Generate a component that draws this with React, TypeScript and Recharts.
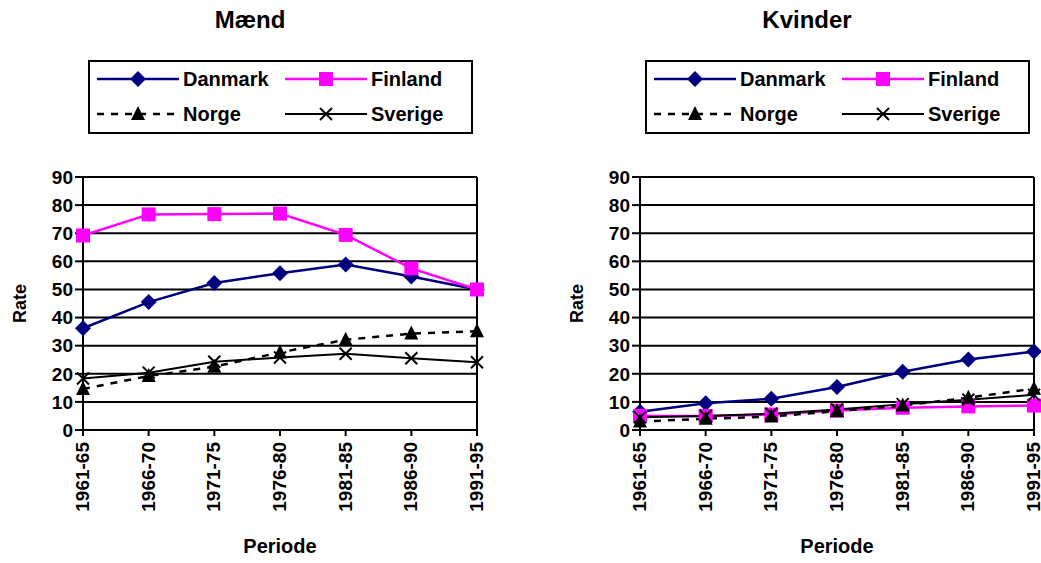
import React from 'react';
import {
  LineChart,
  Line,
  XAxis,
  YAxis,
  CartesianGrid,
  ReferenceLine,
  Legend,
} from 'recharts';

const categories = ['1961-65', '1966-70', '1971-75', '1976-80', '1981-85', '1986-90', '1991-95'];
const yTicks = [0, 10, 20, 30, 40, 50, 60, 70, 80, 90];

// Mænd
const maendDanmark = [36.2, 45.5, 52.3, 55.8, 58.9, 54.6, 50];
const maendFinland = [69.2, 76.7, 76.8, 77, 69.4, 57.5, 50];
const maendNorge = [14.6, 19.2, 22.5, 27.6, 32.1, 34.3, 35.1];
const maendSverige = [18.3, 20.4, 24.3, 25.8, 27.1, 25.5, 24.1];

// Kvinder
const kvinderDanmark = [6.5, 9.5, 11.1, 15.3, 20.7, 25.1, 27.9];
const kvinderFinland = [5, 5, 5.5, 6.9, 7.9, 8.4, 8.7];
const kvinderNorge = [3, 4, 4.8, 6.7, 8.7, 11.5, 14.7];
const kvinderSverige = [4.5, 5, 5.8, 7.3, 9.2, 10.8, 12.5];

const FONT = '"Liberation Sans", Arial, sans-serif';
const NAVY = '#000080';
const MAGENTA = '#FF00FF';

type Marker = 'diamond' | 'square' | 'triangle' | 'cross';

const drawMarker = (kind: Marker, cx: number, cy: number, key?: string) => {
  if (kind === 'diamond') {
    return (
      <polygon key={key} points={`${cx},${cy - 8} ${cx + 8},${cy} ${cx},${cy + 8} ${cx - 8},${cy}`} fill={NAVY} />
    );
  }
  if (kind === 'square') {
    return <rect key={key} x={cx - 7} y={cy - 7} width={14} height={14} fill={MAGENTA} />;
  }
  if (kind === 'triangle') {
    return <polygon key={key} points={`${cx},${cy - 8} ${cx + 7},${cy + 6} ${cx - 7},${cy + 6}`} fill="#000" />;
  }
  return (
    <g key={key} stroke="#000" strokeWidth={2}>
      <line x1={cx - 6} y1={cy - 6} x2={cx + 6} y2={cy + 6} />
      <line x1={cx - 6} y1={cy + 6} x2={cx + 6} y2={cy - 6} />
    </g>
  );
};

const dotOf = (kind: Marker) => (props: any) => drawMarker(kind, props.cx, props.cy, `${kind}-${props.index}`);

const seriesInfo: { key: string; color: string; dash?: string; width: number; marker: Marker }[] = [
  { key: 'Danmark', color: NAVY, width: 2.5, marker: 'diamond' },
  { key: 'Finland', color: MAGENTA, width: 2.5, marker: 'square' },
  { key: 'Norge', color: '#000', dash: '7 7', width: 2.5, marker: 'triangle' },
  { key: 'Sverige', color: '#000', width: 2, marker: 'cross' },
];

const LegendBox = () => {
  const item = (s: (typeof seriesInfo)[number]) => (
    <div key={s.key} style={{ display: 'flex', alignItems: 'center', height: 34 }}>
      <svg width={84} height={20}>
        <line x1={1} y1={10} x2={83} y2={10} stroke={s.color} strokeWidth={s.width} strokeDasharray={s.dash} />
        {drawMarker(s.marker, 42, 10)}
      </svg>
      <span style={{ fontFamily: FONT, fontWeight: 700, fontSize: 20, marginLeft: 3 }}>{s.key}</span>
    </div>
  );
  return (
    <div
      style={{
        border: '2px solid #000',
        background: '#fff',
        boxSizing: 'border-box',
        width: 385,
        height: 74,
        display: 'grid',
        gridTemplateColumns: '188px 188px',
        padding: '0 0 0 6px',
      }}
    >
      {seriesInfo.map(item)}
    </div>
  );
};

const XTick = (props: any) => {
  const { x, y, payload } = props;
  return (
    <text
      x={x + 6}
      y={y + 4}
      transform={`rotate(-90 ${x + 6} ${y + 4})`}
      textAnchor="end"
      fontFamily={FONT}
      fontWeight={700}
      fontSize={19}
      fill="#000"
    >
      {payload.value}
    </text>
  );
};

const Panel = ({ title, values }: { title: string; values: number[][] }) => {
  const data = categories.map((c, i) => ({
    name: c,
    Danmark: values[0][i],
    Finland: values[1][i],
    Norge: values[2][i],
    Sverige: values[3][i],
  }));
  return (
    <div style={{ position: 'relative', width: 520, height: 563 }}>
      <div
        style={{
          position: 'absolute',
          left: 150,
          width: 200,
          top: 6,
          textAlign: 'center',
          fontFamily: FONT,
          fontWeight: 700,
          fontSize: 24,
        }}
      >
        {title}
      </div>
      <LineChart width={520} height={563} data={data} margin={{ top: 177, right: 43, left: 0, bottom: 0 }}>
        <CartesianGrid vertical={false} stroke="#000" strokeWidth={2} />
        <XAxis
          dataKey="name"
          height={133}
          axisLine={{ stroke: '#000', strokeWidth: 2 }}
          tickLine={{ stroke: '#000', strokeWidth: 2 }}
          tickSize={6}
          interval={0}
          tick={<XTick />}
          label={{
            value: 'Periode',
            position: 'insideBottom',
            offset: 10,
            style: { fontFamily: FONT, fontWeight: 700, fontSize: 20, fill: '#000' },
          }}
        />
        <YAxis
          width={83}
          domain={[0, 90]}
          ticks={yTicks}
          interval={0}
          axisLine={{ stroke: '#000', strokeWidth: 2 }}
          tickLine={{ stroke: '#000', strokeWidth: 2 }}
          tickSize={8}
          tick={{ fontFamily: FONT, fontWeight: 700, fontSize: 19, fill: '#000' }}
          label={{
            value: 'Rate',
            content: ({ viewBox }: any) => {
              const cx = viewBox.x + 20;
              const cy = viewBox.y + viewBox.height / 2;
              return (
                <text
                  x={cx}
                  y={cy}
                  transform={`rotate(-90 ${cx} ${cy})`}
                  textAnchor="middle"
                  dominantBaseline="central"
                  fontFamily={FONT}
                  fontWeight={700}
                  fontSize={18}
                  fill="#000"
                >
                  Rate
                </text>
              );
            },
          }}
        />
        <ReferenceLine x={categories[categories.length - 1]} stroke="#000" strokeWidth={2} />
        {seriesInfo.map((s) => (
          <Line
            key={s.key}
            type="linear"
            dataKey={s.key}
            stroke={s.color}
            strokeWidth={s.width}
            strokeDasharray={s.dash}
            dot={dotOf(s.marker)}
            activeDot={false}
            isAnimationActive={false}
          />
        ))}
        <Legend
          layout="horizontal"
          verticalAlign="middle"
          align="center"
          content={() => <LegendBox />}
          wrapperStyle={{ top: 60, left: 88, width: 385, height: 74 }}
        />
      </LineChart>
    </div>
  );
};

export default function App() {
  return (
    <div style={{ position: 'absolute', left: 0, top: 0, width: 1041, height: 563, background: '#fff' }}>
      <div style={{ position: 'absolute', left: 0, top: 0 }}>
        <Panel title="Mænd" values={[maendDanmark, maendFinland, maendNorge, maendSverige]} />
      </div>
      <div style={{ position: 'absolute', left: 557, top: 0 }}>
        <Panel title="Kvinder" values={[kvinderDanmark, kvinderFinland, kvinderNorge, kvinderSverige]} />
      </div>
    </div>
  );
}
